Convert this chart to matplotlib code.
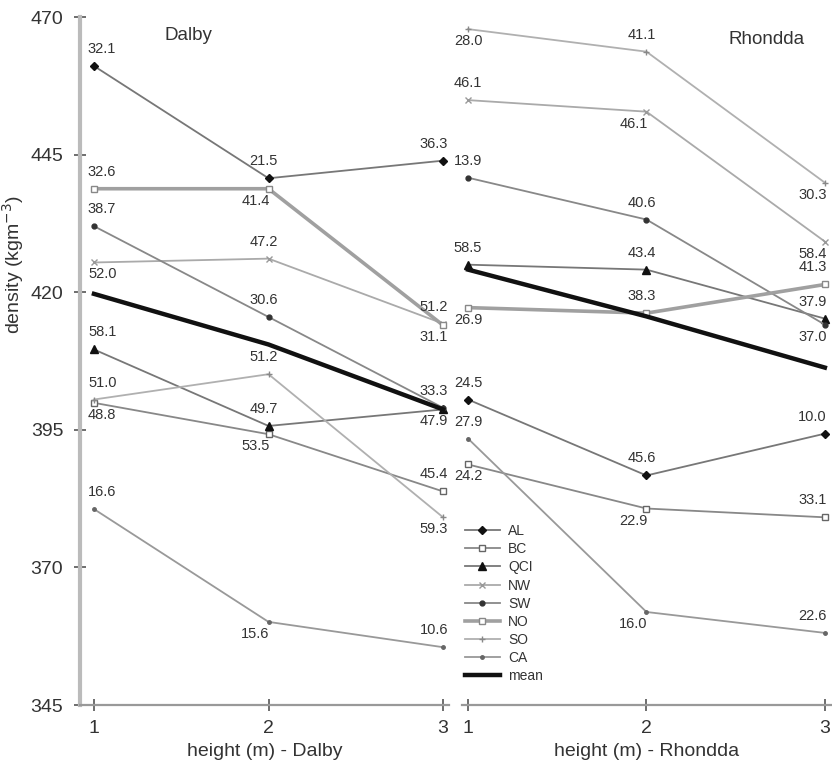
import matplotlib
matplotlib.use("Agg")
import matplotlib.pyplot as plt

plt.rcParams['font.family'] = ['Liberation Sans', 'DejaVu Sans']

# heights (m)
heights = [1, 2, 3]
series = ["AL", "BC", "QCI", "NW", "SW", "NO", "SO", "CA"]

# density (kg m-3) - Dalby
dalby_AL = [461.1, 440.7, 443.9]
dalby_BC = [399.9, 394.2, 383.8]
dalby_QCI = [409.6, 395.7, 398.7]
dalby_NW = [425.4, 426.1, 414.3]
dalby_SW = [432.0, 415.5, 399.0]
dalby_NO = [438.8, 438.8, 414.0]
dalby_SO = [400.5, 405.1, 379.1]
dalby_CA = [380.6, 360.1, 355.5]
dalby_mean = [419.7, 410.5, 398.7]

# point labels - Dalby
dalby_lab_AL = [32.1, 21.5, 36.3]
dalby_lab_BC = [48.8, 53.5, 45.4]
dalby_lab_QCI = [58.1, 49.7, 47.9]
dalby_lab_NW = [52.0, 47.2, 51.2]
dalby_lab_SW = [38.7, 30.6, 33.3]
dalby_lab_NO = [32.6, 41.4, 31.1]
dalby_lab_SO = [51.0, 51.2, 59.3]
dalby_lab_CA = [16.6, 15.6, 10.6]

# density (kg m-3) - Rhondda
rhon_AL = [400.5, 386.7, 394.3]
rhon_BC = [388.7, 380.7, 379.1]
rhon_QCI = [425.0, 424.1, 415.2]
rhon_NW = [454.9, 452.8, 429.2]
rhon_SW = [440.8, 433.2, 414.1]
rhon_NO = [417.2, 416.2, 421.4]
rhon_SO = [467.8, 463.7, 439.9]
rhon_CA = [393.4, 361.9, 358.1]
rhon_mean = [424.1, 415.6, 406.3]

# point labels - Rhondda
rhon_lab_AL = [24.5, 45.6, 10.0]
rhon_lab_BC = [24.2, 22.9, 33.1]
rhon_lab_QCI = [58.5, 43.4, 37.9]
rhon_lab_NW = [46.1, 46.1, 58.4]
rhon_lab_SW = [13.9, 40.6, 37.0]
rhon_lab_NO = [26.9, 38.3, 41.3]
rhon_lab_SO = [28.0, 41.1, 30.3]
rhon_lab_CA = [27.9, 16.0, 22.6]

dalby = [dalby_AL, dalby_BC, dalby_QCI, dalby_NW, dalby_SW, dalby_NO, dalby_SO, dalby_CA]
dalby_labs = [dalby_lab_AL, dalby_lab_BC, dalby_lab_QCI, dalby_lab_NW,
              dalby_lab_SW, dalby_lab_NO, dalby_lab_SO, dalby_lab_CA]
rhon = [rhon_AL, rhon_BC, rhon_QCI, rhon_NW, rhon_SW, rhon_NO, rhon_SO, rhon_CA]
rhon_labs = [rhon_lab_AL, rhon_lab_BC, rhon_lab_QCI, rhon_lab_NW,
             rhon_lab_SW, rhon_lab_NO, rhon_lab_SO, rhon_lab_CA]

# label above (a) / below (b) the point
dalby_side = ["aaa", "bba", "aab", "baa", "aaa", "abb", "aab", "aba"]
rhon_side = ["aaa", "bba", "aaa", "abb", "aab", "baa", "bab", "aba"]

# line styles per series
styles = {
    "AL": dict(color="#777777", lw=1.3, marker="D", ms=4.5, mfc="#111111", mec="#111111"),
    "BC": dict(color="#888888", lw=1.3, marker="s", ms=5, mfc="white", mec="#666666"),
    "QCI": dict(color="#777777", lw=1.3, marker="^", ms=6, mfc="#111111", mec="#111111"),
    "NW": dict(color="#aaaaaa", lw=1.3, marker="x", ms=5, mec="#999999"),
    "SW": dict(color="#888888", lw=1.3, marker="o", ms=3.5, mfc="#333333", mec="#333333"),
    "NO": dict(color="#a0a0a0", lw=2.6, marker="s", ms=5, mfc="white", mec="#888888"),
    "SO": dict(color="#b0b0b0", lw=1.3, marker="+", ms=5, mec="#888888"),
    "CA": dict(color="#999999", lw=1.3, marker="o", ms=2.5, mfc="#666666", mec="#666666"),
}

fig = plt.figure(figsize=(8.32, 7.67), dpi=100)
W, H = 832, 767
ax1 = fig.add_axes([80 / W, 62 / H, 369 / W, 688 / H])
ax2 = fig.add_axes([462 / W, 62 / H, 370 / W, 688 / H])


def draw_panel(ax, data, labs, sides, mean, panel):
    for name, vals, lab, side in zip(series, data, labs, sides):
        ax.plot(heights, vals, label=name, zorder=3, **styles[name])
        for i, (x, y, t, s) in enumerate(zip(heights, vals, lab, side)):
            dy = 17 if s == "a" else -12
            if panel == "left":
                ha, dx = [("left", -6), ("center", -5 if s == "a" else -13), ("center", -9)][i]
            else:
                ha, dx = [("center", 0), ("center", -5 if s == "a" else -13), ("right", 2)][i]
            ax.annotate(f"{t:.1f}", (x, y), xytext=(dx, dy), textcoords="offset pixels",
                        ha=ha, va="center", fontsize=10.5, color="#333333", zorder=5)
    ax.plot(heights, mean, color="#111111", lw=3.2, label="mean", zorder=4)
    ax.set_ylim(345, 470)
    ax.set_xticks(heights)
    for s in ["top", "right"]:
        ax.spines[s].set_visible(False)
    ax.spines["bottom"].set_color("#999999")
    ax.spines["bottom"].set_linewidth(1.6)
    ax.tick_params(axis="x", direction="inout", length=8, width=1.2, color="#555555",
                   labelsize=14, labelcolor="#333333", pad=7)


draw_panel(ax1, dalby, dalby_labs, dalby_side, dalby_mean, "left")
draw_panel(ax2, rhon, rhon_labs, rhon_side, rhon_mean, "right")

ax1.set_xlim(0.92, 3.034)
ax2.set_xlim(0.966, 3.04)

ax1.set_yticks([345, 370, 395, 420, 445, 470])
ax1.spines["left"].set_color("#bbbbbb")
ax1.spines["left"].set_linewidth(3)
ax1.tick_params(axis="y", direction="inout", length=8, width=1.2, color="#555555",
                labelsize=14, labelcolor="#333333", pad=8)
ax1.set_ylabel("density (kgm$^{-3}$)", fontsize=14, color="#333333")
ax1.yaxis.set_label_coords(-0.145, 0.64)

ax2.spines["left"].set_visible(False)
ax2.tick_params(axis="y", left=False, labelleft=False)

ax1.set_xlabel("height (m) - Dalby", fontsize=14, color="#333333", labelpad=4)
ax2.set_xlabel("height (m) - Rhondda", fontsize=14, color="#333333", labelpad=4)

ax1.text(165 / W, 1 - 35 / H, "Dalby", transform=fig.transFigure, fontsize=13.5,
         color="#333333", ha="left", va="center")
ax2.text(805 / W, 1 - 40 / H, "Rhondda", transform=fig.transFigure, fontsize=13.5,
         color="#333333", ha="right", va="center")

handles, labels = ax1.get_legend_handles_labels()
fig.legend(handles, labels, loc="upper left", bbox_to_anchor=(465 / W, 1 - 524 / H),
           bbox_transform=fig.transFigure, frameon=False, fontsize=10,
           handlelength=2.5, handletextpad=0.6, labelspacing=0.3,
           borderpad=0, borderaxespad=0, labelcolor="#333333")

fig.savefig("out.png", dpi=100)
